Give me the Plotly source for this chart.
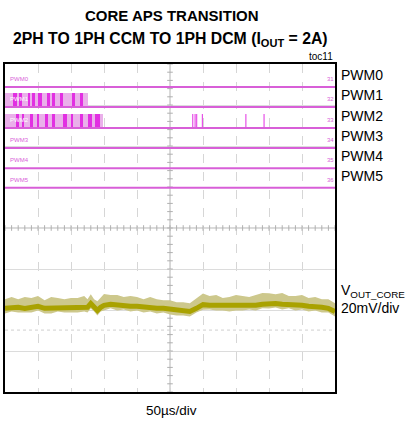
import plotly.graph_objects as go

# channel names (right side) and the tiny in-screen channel tags
pwm_names = ["PWM0", "PWM1", "PWM2", "PWM3", "PWM4", "PWM5"]
pwm_tags = ["31", "32", "33", "34", "35", "36"]

# PWM activity, in horizontal divisions (50us/div)
pwm1_burst_end = 2.52
pwm1_pulse_start = [0.24, 0.45, 0.70, 0.82, 1.00, 1.27, 1.45, 1.67, 2.03, 2.27]
pwm1_pulse_width = [0.12, 0.06, 0.06, 0.09, 0.12, 0.09, 0.06, 0.09, 0.09, 0.09]
pwm2_burst_end = 2.97
pwm2_pulse_start = [0.36, 0.52, 0.76, 0.97, 1.21, 1.45, 1.76, 2.03, 2.27, 2.52, 2.73]
pwm2_pulse_width = [0.05, 0.05, 0.09, 0.06, 0.09, 0.06, 0.12, 0.04, 0.09, 0.12, 0.15]
pwm2_late_pulses = [5.69, 5.76, 5.81, 5.98, 7.30, 7.85]

# VOUT_CORE ripple (mV, relative to the trace baseline), 20mV/div
vout_t = [0.0, 0.2, 0.4, 0.6, 0.8, 1.0, 1.2, 1.4, 1.6, 1.8, 2.0, 2.2, 2.4, 2.5,
          2.6, 2.7, 2.8, 2.9, 3.0, 3.2, 3.4, 3.6, 3.8, 4.0, 4.2, 4.4, 4.6, 4.8,
          5.0, 5.2, 5.4, 5.6, 5.8, 6.0, 6.2, 6.4, 6.6, 6.8, 7.0, 7.2, 7.4, 7.6,
          7.8, 8.0, 8.2, 8.4, 8.6, 8.8, 9.0, 9.2, 9.4, 9.6, 9.8, 10.0]
vout_mv = [0.0, 0.5, 0.5, 0.0, 0.5, 1.0, 0.0, 0.0, 0.5, 0.5, 0.0, 0.5, 0.5, 0.5,
           2.4, 0.5, -1.0, 0.5, 1.5, 2.0, 1.5, 1.5, 1.0, 1.0, 0.5, 0.5, 0.0, 0.0,
           -0.5, -1.0, -1.5, -1.5, 0.0, 1.8, 1.5, 1.5, 1.0, 1.0, 1.0, 1.5, 1.5, 1.5,
           2.0, 2.4, 2.4, 2.0, 2.0, 1.5, 1.5, 1.0, 1.0, 0.5, 0.0, -1.5]
vout_hi = [4.5, 5.0, 4.0, 5.5, 4.5, 5.0, 4.0, 5.5, 4.5, 4.0, 5.0, 4.5, 5.5, 4.0,
           4.5, 4.0, 4.5, 5.0, 5.5, 4.5, 5.0, 4.0, 5.0, 4.5, 4.0, 5.0, 4.5, 4.0,
           4.5, 4.0, 4.5, 4.0, 5.0, 5.5, 4.5, 5.0, 4.0, 4.5, 5.5, 4.5, 4.0, 5.0,
           5.5, 5.0, 4.5, 5.5, 4.0, 4.5, 5.0, 4.0, 4.5, 4.0, 4.5, 4.0]
vout_lo = [2.5, 2.0, 2.5, 2.0, 2.5, 2.0, 2.5, 2.5, 2.0, 2.5, 2.0, 2.5, 2.0, 2.5,
           2.5, 2.0, 2.5, 2.0, 2.5, 2.0, 2.5, 2.0, 2.5, 2.0, 2.5, 2.0, 2.5, 2.0,
           2.5, 2.5, 2.0, 2.5, 2.0, 2.5, 2.0, 2.5, 2.0, 2.5, 2.0, 2.5, 2.0, 2.5,
           2.0, 2.5, 2.0, 2.5, 2.0, 2.5, 2.0, 2.5, 2.0, 2.5, 2.0, 2.5]

# screen layout (divisions)
PWM_BASE = [7.44, 6.95, 6.44, 5.95, 5.46, 4.98]
PULSE_H = 0.34
VOUT_OFFSET = 2.04
MV_PER_DIV = 20.0

PINK = "#d85fd8"
LIGHT_PINK = "#eab0ea"
MAGENTA = "#e22fe2"
OLIVE = "#a9a200"
LIGHT_OLIVE = "#cdc88c"
FONT = "Arial, Liberation Sans, sans-serif"

fig = go.Figure()

# scope graticule centre lines with small ticks
fig.add_shape(type="line", x0=5, x1=5, y0=0, y1=8, line=dict(color="#b5b5b5", width=1), layer="below")
fig.add_shape(type="line", x0=0, x1=10, y0=4, y1=4, line=dict(color="#b5b5b5", width=1), layer="below")
fig.add_shape(type="line", x0=0, x1=10, y0=1.51, y1=1.51,
              line=dict(color="#cfcfcf", width=1, dash="dot"), layer="below")
ticks = [i * 0.2 for i in range(51)]
fig.add_trace(go.Scatter(x=ticks, y=[4] * len(ticks), mode="markers", hoverinfo="skip",
                         marker=dict(symbol="line-ns", size=4, line=dict(color="#b0b0b0", width=1))))
vticks = [i * 0.2 for i in range(41)]
fig.add_trace(go.Scatter(x=[5] * len(vticks), y=vticks, mode="markers", hoverinfo="skip",
                         marker=dict(symbol="line-ew", size=4, line=dict(color="#b0b0b0", width=1))))

# PWM burst backgrounds (dense switching)
for end, base in [(pwm1_burst_end, PWM_BASE[1]), (pwm2_burst_end, PWM_BASE[2])]:
    fig.add_trace(go.Bar(x=[end / 2], y=[PULSE_H], base=[base], width=[end],
                         marker=dict(color=LIGHT_PINK, line=dict(width=0))))

# PWM pulses
fig.add_trace(go.Bar(x=[s + w / 2 for s, w in zip(pwm1_pulse_start, pwm1_pulse_width)],
                     y=[PULSE_H] * len(pwm1_pulse_start), base=PWM_BASE[1],
                     width=pwm1_pulse_width, marker=dict(color=MAGENTA, line=dict(width=0))))
fig.add_trace(go.Bar(x=[s + w / 2 for s, w in zip(pwm2_pulse_start, pwm2_pulse_width)],
                     y=[PULSE_H] * len(pwm2_pulse_start), base=PWM_BASE[2],
                     width=pwm2_pulse_width, marker=dict(color=MAGENTA, line=dict(width=0))))

# isolated DCM pulses on PWM2 as thin vertical strokes
late_x, late_y = [], []
for p in pwm2_late_pulses:
    late_x += [p, p, None]
    late_y += [PWM_BASE[2], PWM_BASE[2] + PULSE_H, None]
fig.add_trace(go.Scatter(x=late_x, y=late_y, mode="lines", hoverinfo="skip",
                         line=dict(color=MAGENTA, width=1)))

# PWM baselines
for base in PWM_BASE:
    fig.add_trace(go.Scatter(x=[0, 10], y=[base, base], mode="lines", hoverinfo="skip",
                             line=dict(color=PINK, width=2)))

# VOUT_CORE trace
y_mid = [VOUT_OFFSET + v / MV_PER_DIV for v in vout_mv]
y_hi = [VOUT_OFFSET + (v + h) / MV_PER_DIV for v, h in zip(vout_mv, vout_hi)]
y_lo = [VOUT_OFFSET + (v - l) / MV_PER_DIV for v, l in zip(vout_mv, vout_lo)]
fig.add_trace(go.Scatter(x=vout_t, y=y_lo, mode="lines", line=dict(width=0), hoverinfo="skip"))
fig.add_trace(go.Scatter(x=vout_t, y=y_hi, mode="lines", line=dict(width=0), fill="tonexty",
                         fillcolor=LIGHT_OLIVE, hoverinfo="skip"))
fig.add_trace(go.Scatter(x=vout_t, y=y_mid, mode="lines", line=dict(color=OLIVE, width=5)))

ann = []
# title
ann.append(dict(text="<b>CORE APS TRANSITION</b>", x=0.505, y=1.149, font=dict(size=15)))
ann.append(dict(text="<b>2PH TO 1PH CCM TO 1PH DCM (I<sub>OUT</sub> = 2A)</b>", x=0.5, y=1.076,
                font=dict(size=15.8)))
ann.append(dict(text="toc11", x=1.0, y=1.023, xanchor="right", font=dict(size=10)))
ann.append(dict(text="50µs/div", x=0.505, y=-0.055, font=dict(size=13.5)))

# channel labels
for name, tag, base in zip(pwm_names, pwm_tags, PWM_BASE):
    ann.append(dict(text=name, x=1.012, xanchor="left", y=(base + 0.3) / 8, font=dict(size=14)))
    ann.append(dict(text=tag, x=0.985, y=(base + 0.2) / 8, font=dict(size=6, color=PINK)))
    ann.append(dict(text=name, x=0.01, xanchor="left", y=(base + 0.2) / 8,
                    font=dict(size=6, color=PINK if name in ("PWM0", "PWM3", "PWM4", "PWM5") else "white")))
ann.append(dict(text="V<sub>OUT_CORE</sub><br>20mV/div", x=1.012, xanchor="left", y=0.285,
                align="left", font=dict(size=14)))

for a in ann:
    a.setdefault("xref", "paper")
    a.setdefault("yref", "paper")
    a.setdefault("showarrow", False)
    a.setdefault("xanchor", "center")
    a.setdefault("yanchor", "middle")
    f = a.setdefault("font", {})
    f.setdefault("color", "black")
    f["family"] = FONT

fig.update_layout(
    width=417, height=421,
    margin=dict(l=5, r=82, t=64, b=29),
    paper_bgcolor="white", plot_bgcolor="white",
    showlegend=False, barmode="overlay", bargap=0,
    annotations=ann,
    font=dict(family=FONT),
)
fig.update_xaxes(range=[0, 10], dtick=1, showticklabels=False, ticks="", zeroline=False,
                 showgrid=True, gridcolor="#d6d6d6", griddash="dash", gridwidth=1,
                 showline=True, mirror=True, linecolor="black", linewidth=2)
fig.update_yaxes(range=[0, 8], dtick=1, showticklabels=False, ticks="", zeroline=False,
                 showgrid=True, gridcolor="#dcdcdc", gridwidth=1,
                 showline=True, mirror=True, linecolor="black", linewidth=2)

fig.write_html("out.html", config={"displayModeBar": False},
               post_script="document.body.style.margin='0';")
